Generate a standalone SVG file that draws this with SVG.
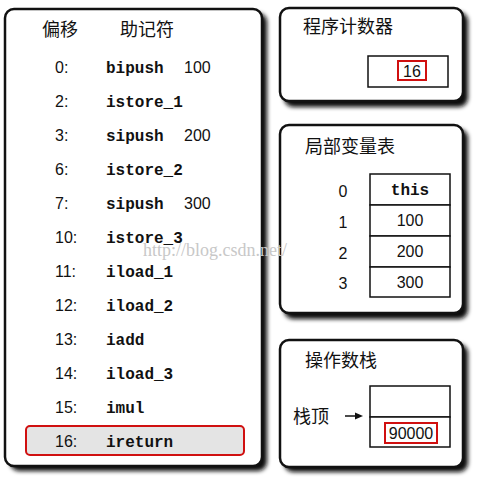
<svg xmlns="http://www.w3.org/2000/svg" width="478" height="479" viewBox="0 0 478 479">
<defs>
<filter id="sh" x="-10%" y="-10%" width="130%" height="130%">
<feGaussianBlur stdDeviation="2"/>
</filter>
<style>
.panel{fill:#fff;stroke:#111;stroke-width:2.5}
.shadow{fill:#111;filter:url(#sh)}
.cjk{font-family:"Noto Sans CJK SC","Noto Sans",sans-serif;font-size:18px;fill:#111}
.off{font-family:"Liberation Sans",Arial,sans-serif;font-size:16px;fill:#111}
.mn{font-family:"Liberation Mono","DejaVu Sans Mono",monospace;font-size:16px;font-weight:bold;fill:#111}
.num{font-family:"Liberation Sans",Arial,sans-serif;font-size:16px;fill:#111}
.cell{fill:#fff;stroke:#111;stroke-width:1.5}
.red{fill:none;stroke:#d01010;stroke-width:2}
.wm{font-family:"Liberation Serif","Times New Roman",serif;font-size:18px;fill:#c8c8c8}
</style>
</defs>
<rect width="478" height="479" fill="#fff"/>

<g id="code">
<rect class="shadow" x="10" y="13" width="257" height="458" rx="9"/>
<rect class="panel" x="5" y="9" width="257" height="457" rx="9"/>
<text class="cjk" x="42" y="36">偏移</text>
<text class="cjk" x="120" y="36">助记符</text>
<rect x="26" y="426" width="218" height="29" rx="4" fill="#e4e4e4" stroke="#d01010" stroke-width="2"/>
<g class="off">
<text x="55" y="73">0:</text>
<text x="55" y="107">2:</text>
<text x="55" y="141">3:</text>
<text x="55" y="175">6:</text>
<text x="55" y="209">7:</text>
<text x="55" y="243">10:</text>
<text x="55" y="277">11:</text>
<text x="55" y="311">12:</text>
<text x="55" y="345">13:</text>
<text x="55" y="379">14:</text>
<text x="55" y="413">15:</text>
<text x="55" y="447">16:</text>
</g>
<g class="mn">
<text x="106" y="73">bipush</text>
<text x="106" y="107">istore_1</text>
<text x="106" y="141">sipush</text>
<text x="106" y="175">istore_2</text>
<text x="106" y="209">sipush</text>
<text x="106" y="243">istore_3</text>
<text x="106" y="277">iload_1</text>
<text x="106" y="311">iload_2</text>
<text x="106" y="345">iadd</text>
<text x="106" y="379">iload_3</text>
<text x="106" y="413">imul</text>
<text x="106" y="447">ireturn</text>
</g>
<g class="num">
<text x="184" y="73">100</text>
<text x="184" y="141">200</text>
<text x="184" y="209">300</text>
</g>
</g>

<g id="pc">
<rect class="shadow" x="284" y="12" width="184" height="95" rx="9"/>
<rect class="panel" x="280" y="8" width="183" height="93" rx="9"/>
<text class="cjk" x="303" y="33">程序计数器</text>
<rect class="cell" x="368" y="56" width="80" height="31"/>
<rect class="red" x="398" y="61" width="28" height="19"/>
<text class="num" x="412" y="77" text-anchor="middle">16</text>
</g>

<g id="locals">
<rect class="shadow" x="284" y="129" width="184" height="190" rx="9"/>
<rect class="panel" x="280" y="125" width="183" height="188" rx="9"/>
<text class="cjk" x="305" y="153">局部变量表</text>
<rect class="cell" x="370" y="174" width="80" height="31"/>
<rect class="cell" x="370" y="205" width="80" height="31"/>
<rect class="cell" x="370" y="236" width="80" height="31"/>
<rect class="cell" x="370" y="267" width="80" height="30"/>
<text class="mn" x="410" y="195" text-anchor="middle">this</text>
<g class="num" text-anchor="middle">
<text x="410" y="226">100</text>
<text x="410" y="257">200</text>
<text x="410" y="288">300</text>
<text x="343" y="197">0</text>
<text x="343" y="228">1</text>
<text x="343" y="259">2</text>
<text x="343" y="289">3</text>
</g>
</g>

<g id="stack">
<rect class="shadow" x="284" y="344" width="184" height="128" rx="9"/>
<rect class="panel" x="280" y="340" width="183" height="127" rx="9"/>
<text class="cjk" x="305" y="367">操作数栈</text>
<rect class="cell" x="370" y="386" width="80" height="31"/>
<rect class="cell" x="370" y="417" width="80" height="30"/>
<rect class="red" x="385" y="423" width="52" height="20"/>
<text class="num" x="411" y="439" text-anchor="middle">90000</text>
<text class="cjk" x="293" y="423">栈顶</text>
</g>

<g id="connectors">
<line x1="345" y1="416" x2="357" y2="416" stroke="#111" stroke-width="1.5"/>
<polygon points="363,416 355,412.5 355,419.5" fill="#111"/>
</g>

<text class="wm" x="143" y="256">http://blog.csdn.net/</text>
</svg>
